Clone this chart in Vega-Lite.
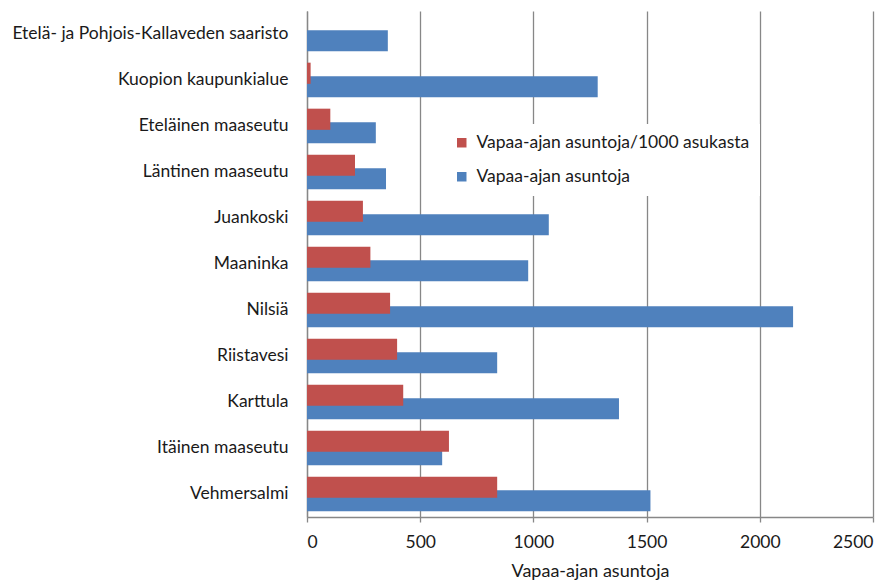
{
  "$schema": "https://vega.github.io/schema/vega-lite/v6.json",
  "autosize": {"type": "none"},
  "width": 566,
  "height": 506,
  "padding": {"left": 307, "top": 11, "right": 17, "bottom": 63},
  "background": "white",
  "config": {
    "view": {"stroke": null},
    "font": "Lato",
    "axis": {"labelFont": "Lato", "titleFont": "Lato", "labelColor": "#1a1a1a", "titleColor": "#1a1a1a"}
  },
  "data": {
    "values": [
      {"alue": "Etelä- ja Pohjois-Kallaveden saaristo", "sarja": "Vapaa-ajan asuntoja", "arvo": 357},
      {"alue": "Kuopion kaupunkialue", "sarja": "Vapaa-ajan asuntoja/1000 asukasta", "arvo": 16},
      {"alue": "Kuopion kaupunkialue", "sarja": "Vapaa-ajan asuntoja", "arvo": 1284},
      {"alue": "Eteläinen maaseutu", "sarja": "Vapaa-ajan asuntoja/1000 asukasta", "arvo": 103},
      {"alue": "Eteläinen maaseutu", "sarja": "Vapaa-ajan asuntoja", "arvo": 304},
      {"alue": "Läntinen maaseutu", "sarja": "Vapaa-ajan asuntoja/1000 asukasta", "arvo": 212},
      {"alue": "Läntinen maaseutu", "sarja": "Vapaa-ajan asuntoja", "arvo": 349},
      {"alue": "Juankoski", "sarja": "Vapaa-ajan asuntoja/1000 asukasta", "arvo": 247},
      {"alue": "Juankoski", "sarja": "Vapaa-ajan asuntoja", "arvo": 1068},
      {"alue": "Maaninka", "sarja": "Vapaa-ajan asuntoja/1000 asukasta", "arvo": 280},
      {"alue": "Maaninka", "sarja": "Vapaa-ajan asuntoja", "arvo": 977},
      {"alue": "Nilsiä", "sarja": "Vapaa-ajan asuntoja/1000 asukasta", "arvo": 367},
      {"alue": "Nilsiä", "sarja": "Vapaa-ajan asuntoja", "arvo": 2147},
      {"alue": "Riistavesi", "sarja": "Vapaa-ajan asuntoja/1000 asukasta", "arvo": 398},
      {"alue": "Riistavesi", "sarja": "Vapaa-ajan asuntoja", "arvo": 840},
      {"alue": "Karttula", "sarja": "Vapaa-ajan asuntoja/1000 asukasta", "arvo": 425},
      {"alue": "Karttula", "sarja": "Vapaa-ajan asuntoja", "arvo": 1378},
      {"alue": "Itäinen maaseutu", "sarja": "Vapaa-ajan asuntoja/1000 asukasta", "arvo": 627},
      {"alue": "Itäinen maaseutu", "sarja": "Vapaa-ajan asuntoja", "arvo": 597},
      {"alue": "Vehmersalmi", "sarja": "Vapaa-ajan asuntoja/1000 asukasta", "arvo": 840},
      {"alue": "Vehmersalmi", "sarja": "Vapaa-ajan asuntoja", "arvo": 1517}
    ]
  },
  "encoding": {
    "y": {
      "field": "alue",
      "type": "nominal",
      "sort": null,
      "scale": {"paddingInner": 0, "paddingOuter": 0},
      "axis": {
        "title": null,
        "ticks": false,
        "labelPadding": 19,
        "labelLimit": 400,
        "labelFontSize": 17.5,
        "domainColor": "#878787",
        "domainWidth": 1.3,
        "grid": false
      }
    },
    "x": {
      "field": "arvo",
      "type": "quantitative",
      "scale": {"domain": [0, 2500], "nice": false},
      "axis": {
        "title": "Vapaa-ajan asuntoja",
        "values": [0, 500, 1000, 1500, 2000, 2500],
        "format": "d",
        "labelFontSize": 17.5,
        "titleFontSize": 18,
        "titleFontWeight": "normal",
        "labelPadding": 11,
        "titlePadding": 12,
        "tickSize": 5,
        "tickColor": "#878787",
        "tickWidth": 1.3,
        "domainColor": "#878787",
        "domainWidth": 1.3,
        "gridColor": "#878787",
        "gridWidth": 1.3,
        "grid": true
      }
    },
    "color": {
      "field": "sarja",
      "type": "nominal",
      "scale": {
        "domain": ["Vapaa-ajan asuntoja/1000 asukasta", "Vapaa-ajan asuntoja"],
        "range": ["#C0504D", "#4F81BD"]
      },
      "legend": {
        "title": null,
        "orient": "none",
        "legendX": 136,
        "legendY": 113,
        "fillColor": "white",
        "padding": 10,
        "symbolType": "square",
        "symbolSize": 90,
        "symbolStrokeWidth": 0,
        "labelFontSize": 17.5,
        "labelFont": "Lato",
        "labelColor": "#1a1a1a",
        "labelOffset": 6,
        "rowPadding": 15,
        "labelLimit": 400
      }
    }
  },
  "layer": [
    {
      "transform": [{"filter": "datum.sarja === 'Vapaa-ajan asuntoja'"}],
      "mark": {"type": "bar", "height": {"band": 0.46}, "yOffset": 6.75}
    },
    {
      "transform": [{"filter": "datum.sarja === 'Vapaa-ajan asuntoja/1000 asukasta'"}],
      "mark": {"type": "bar", "height": {"band": 0.46}, "yOffset": -6.75}
    }
  ]
}
